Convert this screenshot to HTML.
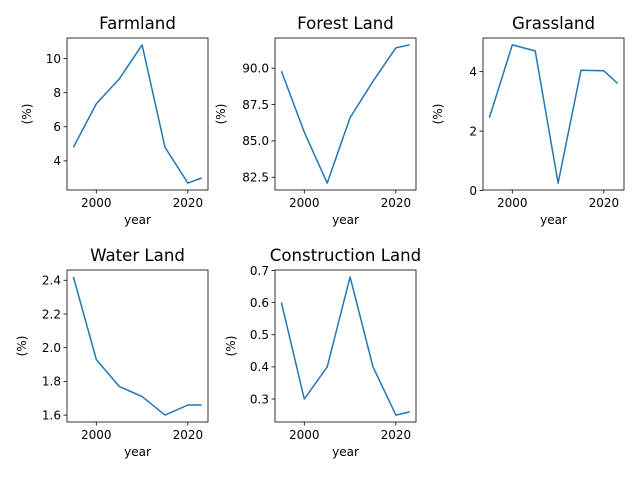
<!DOCTYPE html>
<html><head><meta charset="utf-8"><style>
body{margin:0;background:#fff;}
svg{display:block;font-family:"DejaVu Sans","Liberation Sans",sans-serif;}
</style></head><body>
<svg id="chart" width="640" height="480" viewBox="0 0 640 480"></svg>
<script>
const years = [1995, 2000, 2005, 2010, 2015, 2020, 2023];
const farmland = [4.8, 7.35, 8.8, 10.8, 4.8, 2.7, 3.0];
const forest = [89.8, 85.6, 82.1, 86.6, 89.1, 91.4, 91.6];
const grassland = [2.45, 4.9, 4.7, 0.25, 4.05, 4.03, 3.6];
const water = [2.42, 1.93, 1.77, 1.71, 1.60, 1.66, 1.66];
const construction = [0.60, 0.30, 0.40, 0.68, 0.40, 0.25, 0.26];
const xTicks = [2000, 2020];
const farmTicks = [4, 6, 8, 10];
const forestTicks = [82.5, 85.0, 87.5, 90.0];
const grassTicks = [0, 2, 4];
const waterTicks = [1.6, 1.8, 2.0, 2.2, 2.4];
const constTicks = [0.3, 0.4, 0.5, 0.6, 0.7];

const panels = [
 {title:'Farmland', vals:farmland, ticks:farmTicks, dec:0, x:67, y:38, lab:27, name:'farmland'},
 {title:'Forest Land', vals:forest, ticks:forestTicks, dec:1, x:275, y:38, lab:221, name:'forest-land'},
 {title:'Grassland', vals:grassland, ticks:grassTicks, dec:0, x:483, y:38, lab:438, name:'grassland'},
 {title:'Water Land', vals:water, ticks:waterTicks, dec:1, x:67, y:270, lab:22, name:'water-land'},
 {title:'Construction Land', vals:construction, ticks:constTicks, dec:1, x:275, y:270, lab:231, name:'construction-land'}
];
const W=141, H=152, NS='http://www.w3.org/2000/svg';
const svg=document.getElementById('chart');
function mk(tag, attrs, parent, text){
  const e=document.createElementNS(NS,tag);
  for(const k in attrs) e.setAttribute(k, attrs[k]);
  if(text!==undefined) e.textContent=text;
  parent.appendChild(e); return e;
}
panels.forEach(p=>{
  const g=mk('g',{},svg);
  
  
  const x0=Math.min(...years), x1=Math.max(...years), xm=(x1-x0)*0.05;
  const y0=Math.min(...p.vals), y1=Math.max(...p.vals), ym=(y1-y0)*0.05;
  const sx=v=>p.x+(v-(x0-xm))/((x1+xm)-(x0-xm))*W;
  const sy=v=>p.y+H-(v-(y0-ym))/((y1+ym)-(y0-ym))*H;
  const t=mk('text',{x:p.x+W/2,y:p.y-9,'text-anchor':'middle','font-size':'16.6',fill:'#000'},g,p.title);
  
  
  xTicks.forEach(v=>{
    const X=sx(v);
    mk('line',{x1:X,x2:X,y1:p.y+H,y2:p.y+H+3.5,stroke:'#000','stroke-width':0.8},g);
    const l=mk('text',{x:X,y:p.y+H+17,'text-anchor':'middle','font-size':'12',fill:'#000'},g,String(v));
    
    
  });
  p.ticks.forEach(v=>{
    const Y=sy(v);
    mk('line',{x1:p.x-3.5,x2:p.x,y1:Y,y2:Y,stroke:'#000','stroke-width':0.8},g);
    const l=mk('text',{x:p.x-6,y:Y+4.3,'text-anchor':'end','font-size':'12',fill:'#000'},g,v.toFixed(p.dec));
    
    
  });
  const xl=mk('text',{x:p.x+W/2,y:p.y+H+34,'text-anchor':'middle','font-size':'12',fill:'#000'},g,'year');
  
  
  const lblX = p.lab + 4;
  const yl=mk('text',{x:lblX,y:p.y+H/2,'text-anchor':'middle','font-size':'12',fill:'#000',transform:`rotate(-90 ${lblX} ${p.y+H/2})`},g,'(%)');
  
  
  const pts=years.map((yr,i)=>sx(yr).toFixed(1)+','+sy(p.vals[i]).toFixed(1)).join(' ');
  const line=mk('polyline',{points:pts,fill:'none',stroke:'#1f77b4','stroke-width':1.5,'stroke-linejoin':'round'},g);
  
  
  const box=mk('rect',{x:p.x,y:p.y,width:W,height:H,fill:'none',stroke:'#000','stroke-width':0.8},g);
  
  
});
</script>
</body></html>
